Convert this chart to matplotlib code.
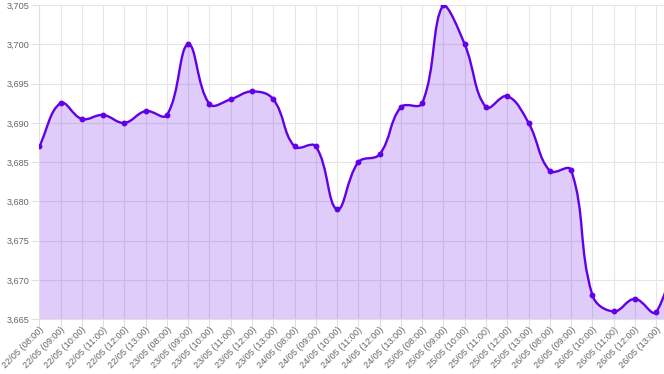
import numpy as np
import matplotlib.pyplot as plt
import matplotlib.transforms as mtransforms
from matplotlib.path import Path
from matplotlib.patches import PathPatch

plt.rcParams["font.family"] = ["Liberation Sans", "DejaVu Sans"]

# === DATI ===
giorni = ["22/05", "23/05", "24/05", "25/05", "26/05"]
ore = ["08:00", "09:00", "10:00", "11:00", "12:00", "13:00"]
etichette = [f"{g} ({o})" for g in giorni for o in ore]

# l'ultimo valore cade fuori dal bordo destro (grafico tagliato)
valori = [3.6870, 3.6925, 3.6905, 3.6910, 3.6900, 3.6915, 3.6910, 3.7000,
          3.6924, 3.6930, 3.6940, 3.6930, 3.6870, 3.6870, 3.6790, 3.6850,
          3.6860, 3.6920, 3.6925, 3.7050, 3.7000, 3.6920, 3.6934, 3.6900,
          3.6839, 3.6840, 3.6681, 3.6660, 3.6676, 3.6659, 3.6730]

tick_y = [3.665, 3.670, 3.675, 3.680, 3.685, 3.690, 3.695, 3.700, 3.705]

VIOLA = "#6200ea"
Y_MIN, Y_MAX = 3.665, 3.705

# === FIGURA ===
fig = plt.figure(figsize=(6.64, 3.74), dpi=100)
ax = fig.add_axes([39.3 / 664, 1 - 319.3 / 374, (664 - 39.3) / 664, (319.3 - 5) / 374])
ax.set_xlim(0, 29.37)
ax.set_ylim(Y_MIN, Y_MAX)

# === CURVA (spline tipo chart.js, tension 0.4) ===
x = np.arange(len(valori))
pts = ax.transData.transform(np.column_stack([x, valori]))
bb = ax.bbox
tension = 0.4
cp_prev = pts.copy()
cp_next = pts.copy()
for i in range(len(pts)):
    p0 = pts[i - 1] if i > 0 else pts[i]
    p1 = pts[i]
    p2 = pts[i + 1] if i < len(pts) - 1 else pts[i]
    d01 = np.hypot(*(p1 - p0))
    d12 = np.hypot(*(p2 - p1))
    tot = d01 + d12
    s01 = d01 / tot if tot else 0
    s12 = d12 / tot if tot else 0
    cp_prev[i] = p1 - tension * s01 * (p2 - p0)
    cp_next[i] = p1 + tension * s12 * (p2 - p0)
    inside = bb.x0 - 0.5 <= p1[0] <= bb.x1 + 0.5 and bb.y0 - 0.5 <= p1[1] <= bb.y1 + 0.5
    if inside:
        for cp in (cp_prev, cp_next):
            cp[i, 0] = min(max(cp[i, 0], bb.x0), bb.x1)
            cp[i, 1] = min(max(cp[i, 1], bb.y0), bb.y1)

vert = [pts[0]]
codes = [Path.MOVETO]
for i in range(len(pts) - 1):
    vert += [cp_next[i], cp_prev[i + 1], pts[i + 1]]
    codes += [Path.CURVE4] * 3
inv = ax.transData.inverted()
vert = inv.transform(np.array(vert))

linea = Path(vert, codes)
area = Path(np.vstack([vert, [[x[-1], Y_MIN], [0, Y_MIN], [0, Y_MIN]]]),
            codes + [Path.LINETO, Path.LINETO, Path.CLOSEPOLY])

ax.add_patch(PathPatch(area, facecolor=(98 / 255, 0, 234 / 255, 0.2), edgecolor="none"))
ax.add_patch(PathPatch(linea, facecolor="none", edgecolor=VIOLA, linewidth=1.7))
ax.plot(x, valori, "o", color=VIOLA, markersize=3.2, zorder=3)

# === ASSI ===
ax.set_xticks(range(len(etichette)))
ax.set_xticklabels(etichette, rotation=45, ha="right", va="center", rotation_mode="anchor")
ax.set_yticks(tick_y)
ax.set_yticklabels([f"{v:.3f}".replace(".", ",") for v in tick_y])
ax.tick_params(axis="both", length=6, width=0.8, color="#e0e0e0", labelcolor="#666666",
               labelsize=6.6, pad=1)
ax.tick_params(axis="x", pad=0)
sposta = mtransforms.ScaledTranslation(3 / 100, -1 / 100, fig.dpi_scale_trans)
for lab in ax.get_xticklabels():
    lab.set_transform(lab.get_transform() + sposta)
ax.grid(color="#e6e6e6", linewidth=0.8)
ax.set_axisbelow(True)
for lato in ["top", "right"]:
    ax.spines[lato].set_visible(False)
for lato in ["left", "bottom"]:
    ax.spines[lato].set_color("#e0e0e0")
    ax.spines[lato].set_linewidth(0.8)

fig.savefig("out.png", dpi=100)
plt.close()
